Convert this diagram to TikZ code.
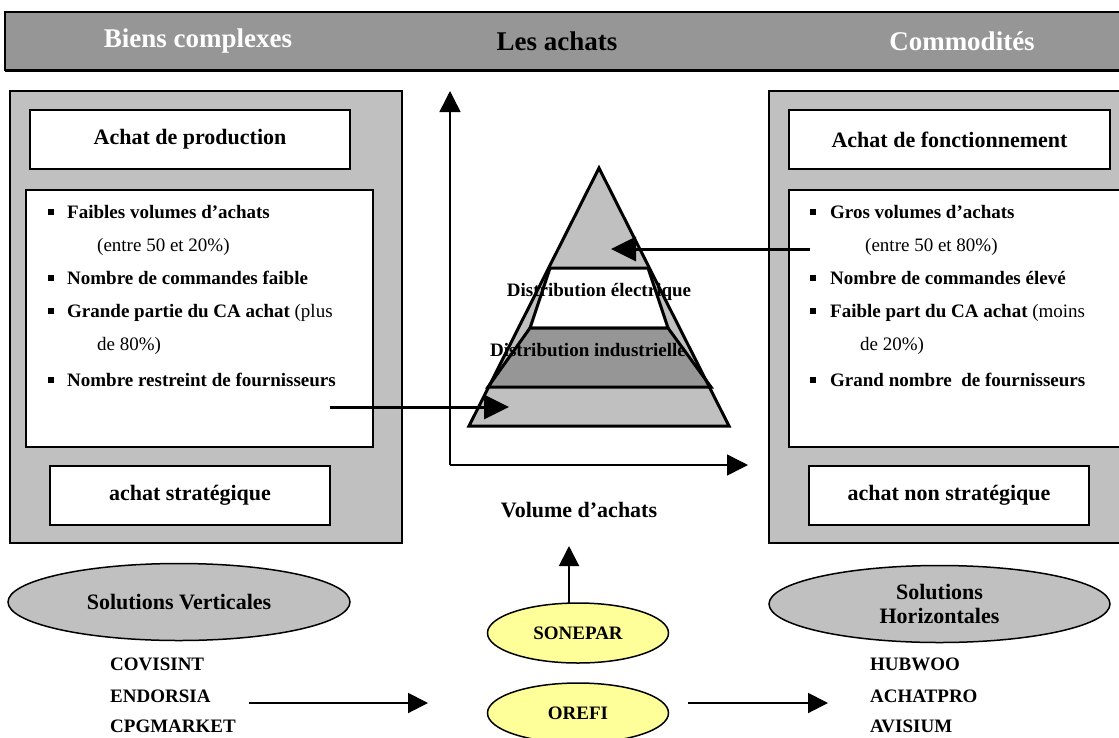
\documentclass[tikz,border=0pt]{standalone}
\usepackage{fontspec}
\setmainfont{Liberation Serif}
\usetikzlibrary{shapes.geometric,arrows.meta}
\definecolor{bannergray}{HTML}{969696}
\definecolor{panelgray}{HTML}{C0C0C0}
\definecolor{darkband}{HTML}{969696}
\definecolor{paleyellow}{HTML}{FFFF99}
\newcommand{\fsA}{\fontsize{27}{31}\selectfont\bfseries}
\newcommand{\fsB}{\fontsize{22}{25}\selectfont\bfseries}
\newcommand{\fsC}{\fontsize{19}{23}\selectfont}
\tikzset{
  panel/.style={draw, line width=1.5pt, fill=panelgray, inner sep=0pt, outer sep=0pt},
  wbox/.style={draw, line width=1.5pt, fill=white, inner sep=0pt, outer sep=0pt},
  bul/.style={fill=black, inner sep=0pt, minimum size=5.5pt},
  item/.style={anchor=base west, inner sep=0pt, font=\fsC},
  oval/.style={ellipse, draw, line width=1.5pt, inner sep=0pt, outer sep=0pt},
  bigarrow/.style={-{Triangle[length=25pt,width=24pt]}, line width=3pt},
  medarrow/.style={-{Triangle[length=20pt,width=20pt]}, line width=2pt},
  axisarrow/.style={-{Triangle[length=21pt,width=21pt]}, line width=1.5pt},
  pyr/.style={line width=3pt, line join=miter}
}
\begin{document}
\begin{tikzpicture}[x=1pt,y=-1pt]
\useasboundingbox (0,0) rectangle (1119,737);

% banner
\node[panel, fill=bannergray, minimum width=1120, minimum height=58] (banner) at (565,41) {};
\draw[line width=3pt] (5,70) -- (1125,70);
\node[font=\fsA, text=white] (biens) at (198,41) {Biens complexes};
\node[font=\fsA] (achats) at (557,41) {Les achats};
\node[font=\fsA, text=white] (commod) at (962,41) {Commodités};

% left panel
\node[panel, minimum width=392, minimum height=452] (panL) at (206,317) {};
\node[wbox, minimum width=320, minimum height=59, font=\fsB] (hdrL) at (190,139.5) {Achat de production};
\node[wbox, minimum width=347, minimum height=257] (listL) at (199.5,318.5) {};
\node[wbox, minimum width=280, minimum height=59, font=\fsB] (botL) at (190,495.5) {achat stratégique};

\node[bul] (bL1) at (51,212) {};
\node[item] (tL1) at (67,218) {\bfseries Faibles volumes d’achats};
\node[item] (tL2) at (97,251) {(entre 50 et 20\%)};
\node[bul] (bL3) at (51,278) {};
\node[item] (tL3) at (67,284) {\bfseries Nombre de commandes faible};
\node[bul] (bL4) at (51,311) {};
\node[item] (tL4) at (67,317) {\textbf{Grande partie du CA achat} (plus};
\node[item] (tL5) at (97,350) {de 80\%)};
\node[bul] (bL6) at (51,380) {};
\node[item] (tL6) at (67,386) {\bfseries Nombre restreint de fournisseurs};

% right panel
\node[panel, minimum width=356, minimum height=452] (panR) at (947,317) {};
\node[wbox, minimum width=321, minimum height=59, font=\fsB] (hdrR) at (949.5,139.5) {Achat de fonctionnement};
\node[wbox, minimum width=336, minimum height=257] (listR) at (957,318.5) {};
\node[wbox, minimum width=280, minimum height=59, font=\fsB] (botR) at (949,495.5) {achat non stratégique};

\node[bul] (bR1) at (813,212) {};
\node[item] (tR1) at (830,218) {\bfseries Gros volumes d’achats};
\node[item] (tR2) at (865,251) {(entre 50 et 80\%)};
\node[bul] (bR3) at (813,278) {};
\node[item] (tR3) at (830,284) {\bfseries Nombre de commandes élevé};
\node[bul] (bR4) at (813,311) {};
\node[item] (tR4) at (830,317) {\textbf{Faible part du CA achat} (moins};
\node[item] (tR5) at (860,350) {de 20\%)};
\node[bul] (bR6) at (813,380) {};
\node[item] (tR6) at (830,386) {\bfseries Grand nombre\ \ de fournisseurs};

% axes
\coordinate (orig) at (450,465);
\coordinate (ytip) at (450,91);
\coordinate (xtip) at (748,465);
\draw[axisarrow] (orig) -- (ytip);
\draw[axisarrow] (orig) -- (xtip);
\node[font=\fsB] (vol) at (579,510) {Volume d’achats};

% pyramid
\coordinate (apex) at (599,168);
\coordinate (bl) at (469,426);
\coordinate (br) at (729,426);
\fill[panelgray] (apex) -- (br) -- (bl) -- cycle;
\filldraw[fill=white, pyr] (550,268) -- (648,268) -- (668,328) -- (530,328) -- cycle;
\filldraw[fill=darkband, pyr] (530,328) -- (668,328) -- (711,387) -- (488,387) -- cycle;
\draw[pyr] (apex) -- (br) -- (bl) -- cycle;
\node[font=\fsC\bfseries, inner sep=0pt] (elec) at (599,292) {Distribution électrique};
\node[font=\fsC\bfseries, inner sep=0pt] (indus) at (588,350) {Distribution industrielle};

% arrows into pyramid
\coordinate (arrRs) at (810,249);
\coordinate (arrRe) at (611,249);
\draw[bigarrow] (arrRs) -- (arrRe);
\coordinate (arrLs) at (330,407);
\coordinate (arrLe) at (509,407);
\draw[bigarrow] (arrLs) -- (arrLe);

% bottom ellipses
\node[oval, fill=panelgray, minimum width=342, minimum height=77, font=\fsB] (solV) at (179,602) {Solutions Verticales};
\node[oval, fill=panelgray, minimum width=341, minimum height=77, font=\fsB, align=center] (solH) at (939.5,604) {Solutions\\[-1pt]Horizontales};
\node[oval, fill=paleyellow, minimum width=181, minimum height=60, font=\fsC\bfseries] (sonepar) at (578,633) {SONEPAR};
\node[oval, fill=paleyellow, minimum width=181, minimum height=60, font=\fsC\bfseries] (orefi) at (578,713) {OREFI};

\coordinate (sonS) at (569,603.5);
\coordinate (sonE) at (569,546);
\draw[medarrow] (sonS) -- (sonE);

% lists
\node[item, anchor=west, font=\fsC\bfseries] (covi) at (110,664) {COVISINT};
\node[item, anchor=west, font=\fsC\bfseries] (endo) at (110,696) {ENDORSIA};
\node[item, anchor=west, font=\fsC\bfseries] (cpg) at (110,726) {CPGMARKET};
\node[item, anchor=west, font=\fsC\bfseries] (hub) at (870,664) {HUBWOO};
\node[item, anchor=west, font=\fsC\bfseries] (achp) at (870,696) {ACHATPRO};
\node[item, anchor=west, font=\fsC\bfseries] (avis) at (870,726) {AVISIUM};

\coordinate (a1s) at (249,703);
\coordinate (a1e) at (428,703);
\draw[medarrow] (a1s) -- (a1e);
\coordinate (a2s) at (688,703);
\coordinate (a2e) at (828,703);
\draw[medarrow] (a2s) -- (a2e);
\end{tikzpicture}
\end{document}
